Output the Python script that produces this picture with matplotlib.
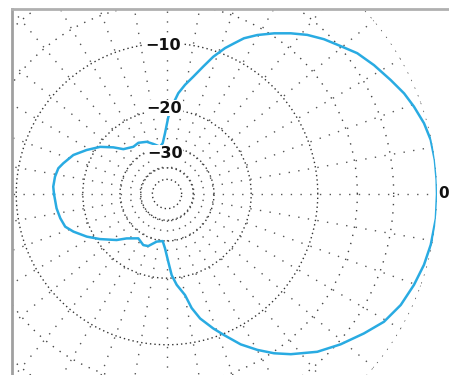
import matplotlib.pyplot as plt
import numpy as np
from matplotlib.patches import Rectangle
from matplotlib.lines import Line2D

# pattern: azimuth (deg) and relative gain (dB)
angle_deg = [-180, -172.6, -167.2, -162.2, -158.1, -152.0, -146.1, -137.6, -132.3,
             -122.9, -114.9, -109.8, -102.2, -95.2, -92.1, -88.9, -86.7, -83.9,
             -79.9, -77.8, -75.1, -71.0, -68.0, -63.9, -59.9, -56.1, -52.3, -46.4,
             -40.9, -35.3, -30.5, -25.4, -20.2, -15.4, -10.9, -5.2, 0,
             3.0, 7.2, 11.6, 15.4, 19.5, 23.0, 27.0, 31.9, 36.5, 40.4, 44.6,
             48.6, 52.4, 56.3, 60.4, 63.7, 66.0, 68.3, 71.4, 74.1, 77.4, 80.6,
             83.6, 86.0, 89.0, 91.9, 94.8, 98.4, 105.3, 111.2, 119.2, 125.5,
             134.2, 139.0, 144.8, 151.3, 157.4, 163.5, 166.7, 171.2, 176.3, 180]
gain_db = [-14.95, -15.2, -15.5, -15.9, -16.9, -18.7, -20.7, -23.6, -25.8,
           -28.0, -26.9, -27.2, -29.4, -29.9, -27.5, -23.7, -20.6, -18.6,
           -16.6, -14.4, -12.7, -11.0, -9.85, -8.2, -6.94, -5.86, -4.94, -3.68,
           -2.78, -1.93, -1.2, -0.73, -0.44, -0.22, -0.09, 0.0, 0.0,
           0.0, 0.0, -0.05, -0.22, -0.52, -0.81, -1.25, -1.75, -2.26, -2.89, -3.48,
           -4.14, -4.91, -5.75, -6.69, -7.57, -8.46, -9.3, -10.7, -12.2, -13.9, -15.3,
           -16.8, -18.7, -21.5, -25.6, -28.6, -29.7, -28.3, -27.0, -26.2, -26.4,
           -25.1, -22.9, -20.5, -18.55, -16.8, -15.7, -15.15, -14.9, -14.8, -14.95]

ring_major = [-10, -20, -30, -40, -50]
ring_outer = [0, -3, -6]
ring_labels = ['\u221210', '\u221220', '\u221230']


def arrl(db):
    # ARRL log-periodic scale: radius shrinks by 0.89 every 2 dB
    return 0.89 ** (-np.asarray(db, dtype=float) / 2.0)


W, H = 449, 375
fig = plt.figure(figsize=(W / 100, H / 100), dpi=100)
cx, cy, R = 167, 194, 270
ax = fig.add_axes([(cx - R) / W, (H - cy - R) / H, 2 * R / W, 2 * R / H],
                  projection='polar')
ax.set_ylim(0, 1)
ax.set_xticks([])
ax.set_yticks([])
ax.grid(False)
ax.spines['polar'].set_visible(False)

th = np.linspace(0, 2 * np.pi, 721)
for db in ring_major:
    ax.plot(th, np.full_like(th, arrl(db)), color='#333333', lw=1.0,
            ls=(0, (1, 2.2)), zorder=1)
for db in ring_outer:
    ax.plot(th, np.full_like(th, arrl(db)), color='#444444', lw=1.0,
            ls=(0, (1, 5)), zorder=1)
for a in range(0, 360, 10):
    t = np.deg2rad(a)
    ax.plot([t, t], [arrl(-40), 1.0], color='#555555', lw=1.0,
            ls=(0, (1, 6)), zorder=1)

ax.plot(np.deg2rad(angle_deg), arrl(gain_db), color='#29abe2', lw=1.8, zorder=3)

label_pos = [(91.5, 149), (92, 86), (93, 41)]
for (a, rpx), txt in zip(label_pos, ring_labels):
    ax.text(np.deg2rad(a), rpx / R, txt, ha='center', va='center',
            fontsize=11.5, fontweight='bold', color='#111111', zorder=4,
            bbox=dict(boxstyle='square,pad=0.05', fc='white', ec='none'))
ax.text(0, 1.006, '0', ha='left', va='center', fontsize=11,
        fontweight='bold', color='#111111', zorder=4)

# frame of the scanned figure
fig.patches.append(Rectangle((0, 0), 12 / W, 1, transform=fig.transFigure,
                             fc='white', ec='none', zorder=5))
fig.patches.append(Rectangle((0, (H - 9) / H), 1, 9 / H, transform=fig.transFigure,
                             fc='white', ec='none', zorder=5))
fig.lines.append(Line2D([12 / W, 12 / W], [0, (H - 9) / H], transform=fig.transFigure,
                        color='#a0a0a0', lw=2, zorder=6))
fig.lines.append(Line2D([12 / W, 1], [(H - 9) / H, (H - 9) / H], transform=fig.transFigure,
                        color='#b0b0b0', lw=2, zorder=6))

fig.savefig('out.png', dpi=100)
